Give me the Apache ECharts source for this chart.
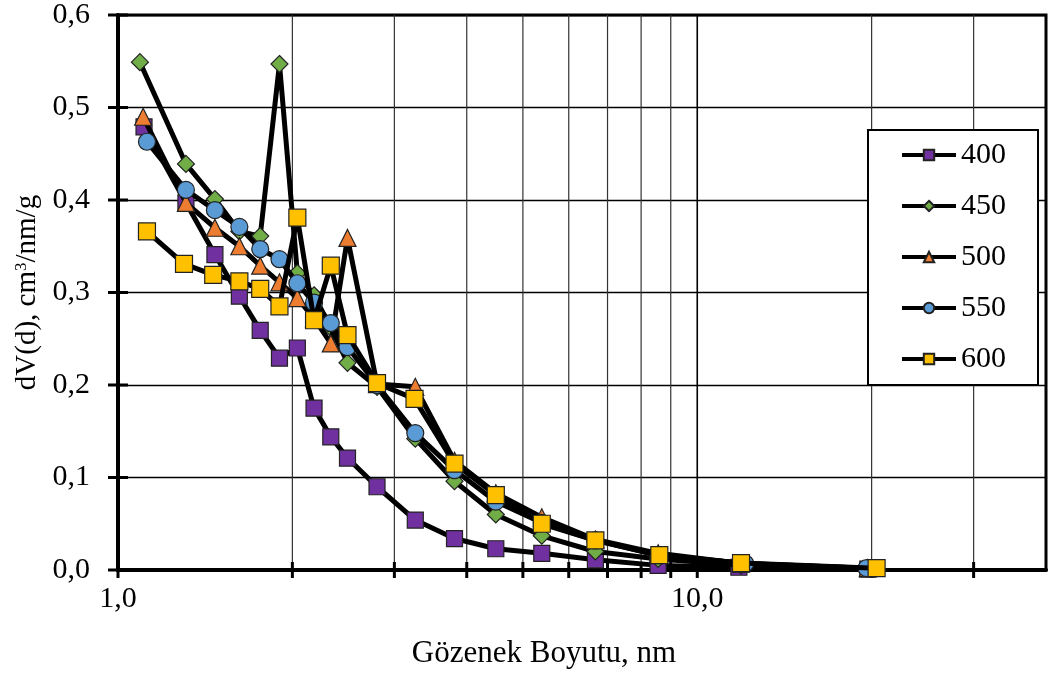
<!DOCTYPE html>
<html>
<head>
<meta charset="utf-8">
<script src="https://cdn.jsdelivr.net/npm/echarts@6/dist/echarts.min.js"></script>
<style>
  html, body { margin: 0; padding: 0; background: #fff; }
  #chart { width: 1049px; height: 674px; }
</style>
</head>
<body>
<div id="chart"></div>
<script>
// Pore size (nm) and dV(d) values for each activation temperature
const seriesNames = ['400', '450', '500', '550', '600'];

const x400 = [1.109, 1.31, 1.47, 1.62, 1.76, 1.90, 2.04, 2.18, 2.33, 2.49, 2.80, 3.26, 3.81, 4.49, 5.39, 6.67, 8.56, 11.8, 19.7];
const dv400 = [0.479, 0.397, 0.341, 0.296, 0.259, 0.229, 0.240, 0.175, 0.144, 0.121, 0.090, 0.054, 0.034, 0.023, 0.018, 0.011, 0.005, 0.003, 0.001];

const x450 = [1.091, 1.31, 1.47, 1.62, 1.76, 1.90, 2.04, 2.18, 2.33, 2.49, 2.80, 3.26, 3.81, 4.49, 5.39, 6.67, 8.56, 11.9, 19.7];
const dv450 = [0.549, 0.439, 0.401, 0.366, 0.361, 0.547, 0.321, 0.297, 0.262, 0.224, 0.198, 0.142, 0.096, 0.060, 0.037, 0.020, 0.012, 0.005, 0.002];

const x500 = [1.105, 1.31, 1.47, 1.62, 1.76, 1.90, 2.04, 2.18, 2.33, 2.49, 2.80, 3.26, 3.81, 4.49, 5.39, 6.67, 8.56, 11.9, 19.7];
const dv500 = [0.490, 0.397, 0.370, 0.350, 0.329, 0.311, 0.294, 0.272, 0.245, 0.359, 0.201, 0.198, 0.118, 0.083, 0.057, 0.033, 0.018, 0.007, 0.002];

const x550 = [1.122, 1.31, 1.47, 1.62, 1.76, 1.90, 2.04, 2.18, 2.33, 2.49, 2.80, 3.26, 3.81, 4.49, 5.39, 6.67, 8.56, 12.1, 19.6];
const dv550 = [0.463, 0.411, 0.389, 0.371, 0.347, 0.336, 0.310, 0.289, 0.267, 0.241, 0.200, 0.148, 0.108, 0.074, 0.051, 0.032, 0.016, 0.007, 0.002];

const x600 = [1.122, 1.30, 1.46, 1.62, 1.76, 1.90, 2.04, 2.18, 2.33, 2.49, 2.80, 3.25, 3.81, 4.49, 5.39, 6.67, 8.6, 11.9, 20.4];
const dv600 = [0.366, 0.331, 0.319, 0.312, 0.304, 0.285, 0.381, 0.270, 0.329, 0.254, 0.202, 0.185, 0.115, 0.081, 0.050, 0.032, 0.016, 0.0075, 0.002];

// Log-axis grid lines between decades, and tick positions
const xGridValues = [2, 3, 4, 5, 6, 7, 8, 9, 10, 20, 30];
const xTickValues = [1, 2, 3, 4, 5, 6, 7, 8, 9, 10, 20, 30];
const yTickValues = [0, 0.1, 0.2, 0.3, 0.4, 0.5, 0.6];

const xs = [x400, x450, x500, x550, x600];
const ys = [dv400, dv450, dv500, dv550, dv600];
const colors = ['#7030A0', '#70AD47', '#ED7D31', '#5B9BD5', '#FFC000'];
const symbols = ['rect', 'diamond', 'triangle', 'circle', 'rect'];
const symbolSizes = [16, 17, 17, 17, 17];

const FONT = 'Liberation Serif';
const LINE_W = 5;

const lineSeries = seriesNames.map((name, i) => ({
  name: name,
  type: 'line',
  data: xs[i].map((x, k) => [x, ys[i][k]]),
  symbol: symbols[i],
  symbolSize: symbolSizes[i],
  showAllSymbol: true,
  color: colors[i],
  silent: true,
  lineStyle: { color: '#000', width: LINE_W, opacity: 1 },
  itemStyle: { color: colors[i], borderColor: '#222', borderWidth: 1.2 },
  emphasis: { focus: 'none', scale: false, lineStyle: { width: LINE_W } },
  z: 3 + i,
  animation: false
}));

// Vertical grid lines and x tick marks crossing the axis
const xFrameSeries = {
  type: 'custom',
  silent: true,
  z: 1,
  data: xTickValues.map(v => [v, 0]),
  renderItem: function (params, api) {
    const v = api.value(0);
    const p = api.coord([v, 0]);
    const cs = params.coordSys;
    const children = [];
    if (xGridValues.indexOf(v) >= 0) {
      children.push({
        type: 'line',
        shape: { x1: p[0], y1: cs.y, x2: p[0], y2: cs.y + cs.height },
        style: { stroke: v === 10 ? '#000' : '#333', lineWidth: v === 10 ? 1.6 : 1.2 }
      });
    }
    children.push({
      type: 'line',
      shape: { x1: p[0], y1: cs.y + cs.height - 8, x2: p[0], y2: cs.y + cs.height + 8 },
      style: { stroke: '#000', lineWidth: 3 }
    });
    return { type: 'group', children: children };
  },
  animation: false
};

// y tick marks crossing the axis
const yFrameSeries = {
  type: 'custom',
  silent: true,
  z: 1,
  data: yTickValues.map(v => [1, v]),
  renderItem: function (params, api) {
    const p = api.coord([1, api.value(1)]);
    const cs = params.coordSys;
    return {
      type: 'line',
      shape: { x1: cs.x - 10, y1: p[1], x2: cs.x + 10, y2: p[1] },
      style: { stroke: '#000', lineWidth: 3 }
    };
  },
  animation: false
};

const chart = echarts.init(document.getElementById('chart'), null, { renderer: 'canvas' });

chart.setOption({
  animation: false,
  backgroundColor: '#fff',
  grid: {
    left: 118, right: 3, top: 15, bottom: 104,
    show: true, borderColor: '#000', borderWidth: 3, backgroundColor: 'transparent'
  },
  legend: {
    data: seriesNames,
    orient: 'vertical',
    left: 868,
    top: 130,
    padding: [10, 32, 11, 32],
    itemGap: 21,
    itemWidth: 54,
    itemHeight: 13,
    backgroundColor: '#fff',
    borderColor: '#000',
    borderWidth: 2,
    lineStyle: { width: 4, color: '#000' },
    textStyle: { fontFamily: FONT, fontSize: 30, color: '#000' },
    selectedMode: false
  },
  xAxis: {
    type: 'log',
    logBase: 10,
    min: 1,
    max: 40,
    name: 'Gözenek Boyutu, nm',
    nameLocation: 'middle',
    nameGap: 68,
    nameTextStyle: { fontFamily: FONT, fontSize: 31, color: '#000', padding: [0, 76, 0, 0] },
    axisLine: { show: true, onZero: false, lineStyle: { color: '#000', width: 4 } },
    axisTick: { show: false },
    splitLine: { show: false },
    minorSplitLine: { show: false },
    axisLabel: {
      fontFamily: FONT, fontSize: 30, color: '#000', margin: 14,
      showMinLabel: true, showMaxLabel: false,
      formatter: function (v) {
        const l = Math.log10(v);
        if (Math.abs(l - Math.round(l)) > 1e-6) return '';
        return v.toFixed(1).replace('.', ',');
      }
    }
  },
  yAxis: {
    type: 'value',
    min: 0,
    max: 0.6,
    interval: 0.1,
    name: '{a|dV(d), cm}{s|3}{a|/nm/g}',
    nameLocation: 'middle',
    nameGap: 72,
    nameTextStyle: {
      fontFamily: FONT, color: '#000',
      rich: {
        a: { fontFamily: FONT, fontSize: 29, color: '#000' },
        s: { fontFamily: FONT, fontSize: 17, color: '#000', padding: [0, 0, 12, 0] }
      }
    },
    axisLine: { show: true, lineStyle: { color: '#000', width: 4 } },
    axisTick: { show: false },
    splitLine: { show: true, lineStyle: { color: '#000', width: 1.3 } },
    axisLabel: {
      fontFamily: FONT, fontSize: 30, color: '#000', margin: 28,
      formatter: v => v.toFixed(1).replace('.', ',')
    }
  },
  series: [xFrameSeries, yFrameSeries].concat(lineSeries)
});
</script>
</body>
</html>
